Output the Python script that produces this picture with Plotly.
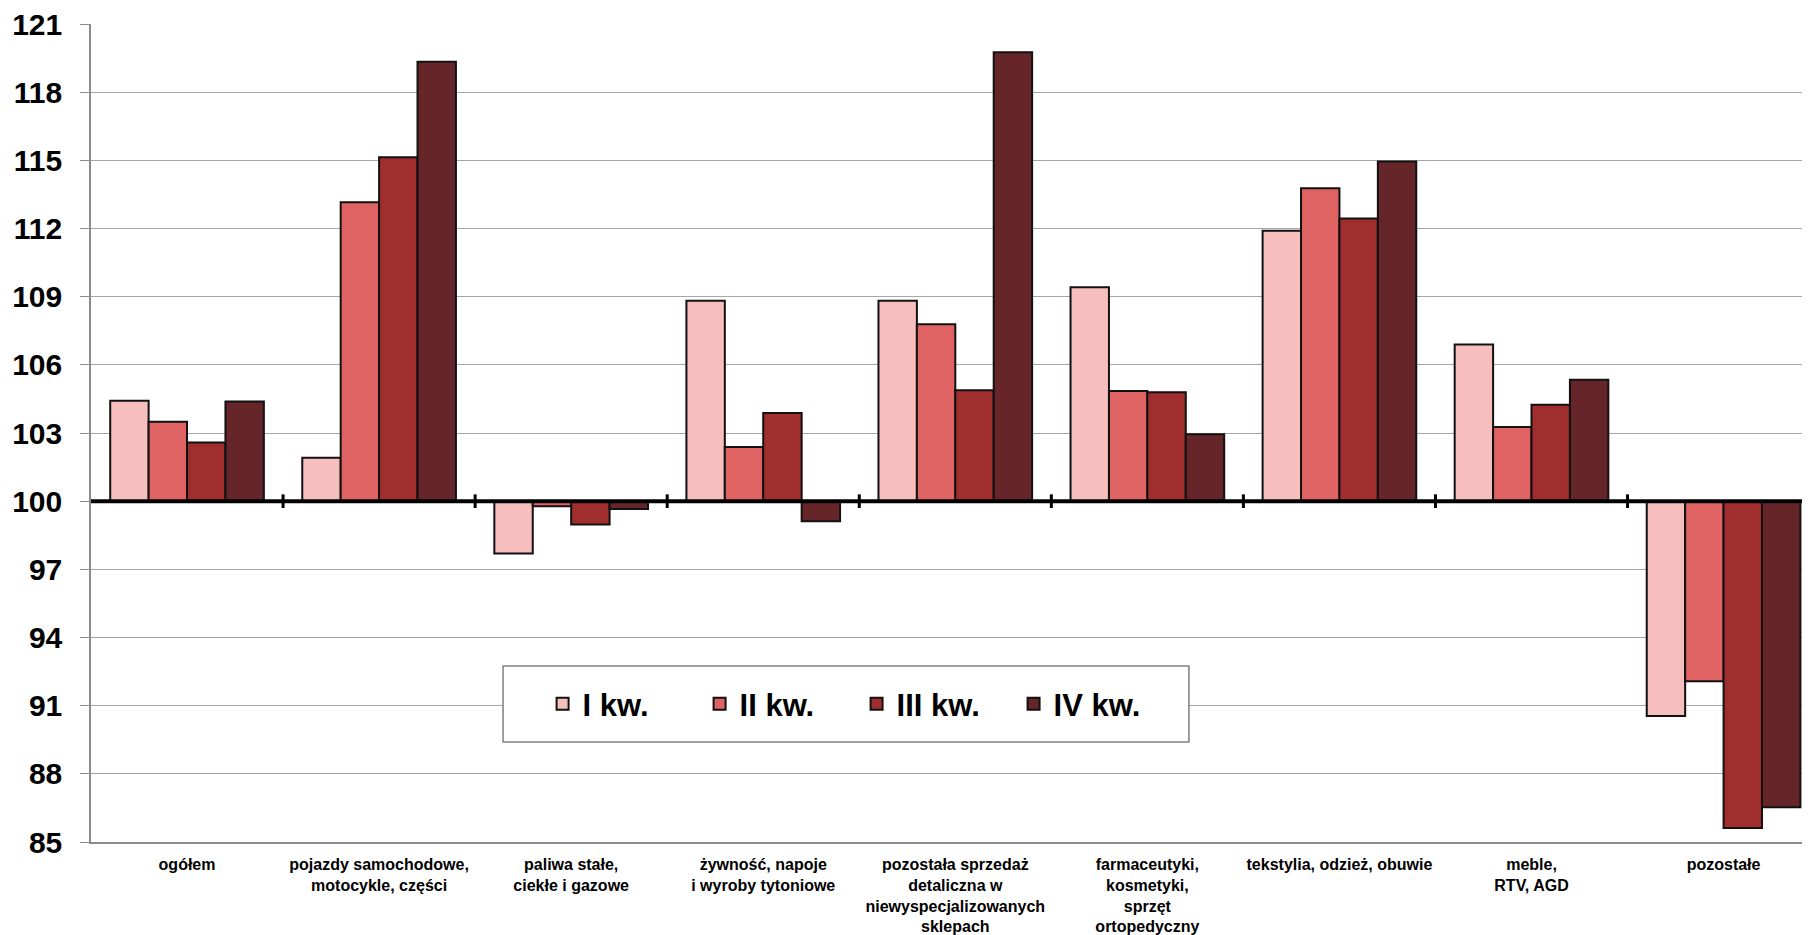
import plotly.graph_objects as go

categories = [
    "ogółem",
    "pojazdy samochodowe,<br>motocykle, części",
    "paliwa stałe,<br>ciekłe i gazowe",
    "żywność, napoje<br>i wyroby tytoniowe",
    "pozostała sprzedaż<br>detaliczna w<br>niewyspecjalizowanych<br>sklepach",
    "farmaceutyki,<br>kosmetyki,<br>sprzęt<br>ortopedyczny",
    "tekstylia, odzież, obuwie",
    "meble,<br>RTV, AGD",
    "pozostałe",
]
series_names = ["I kw.", "II kw.", "III kw.", "IV kw."]
q1 = [104.42, 101.91, 97.70, 108.82, 108.82, 109.41, 111.90, 106.89, 90.55]
q2 = [103.49, 113.16, 99.78, 102.38, 107.79, 104.85, 113.77, 103.26, 92.07]
q3 = [102.58, 115.14, 98.97, 103.88, 104.88, 104.79, 112.44, 104.24, 85.62]
q4 = [104.39, 119.34, 99.66, 99.12, 119.76, 102.94, 114.95, 105.34, 86.53]
series_values = [q1, q2, q3, q4]
y_ticks = [85, 88, 91, 94, 97, 100, 103, 106, 109, 112, 115, 118, 121]
base_value = 100

colors = ["#F7BEBE", "#E06363", "#A12E2E", "#662629"]
font_family = "Liberation Sans, Arial, sans-serif"

fig = go.Figure()
x_idx = list(range(len(categories)))
for name, vals, col in zip(series_names, series_values, colors):
    fig.add_trace(go.Bar(
        x=x_idx,
        y=[v - base_value for v in vals],
        base=base_value,
        name=name,
        marker=dict(color=col, line=dict(color="#111111", width=2)),
    ))

shapes = [
    # legend frame
    dict(type="rect", xref="paper", yref="paper", x0=0.2397, x1=0.6387, y0=0.1222, y1=0.2152,
         fillcolor="white", line=dict(color="#7F7F7F", width=1.5), layer="above"),
    # baseline at 100
    dict(type="line", xref="paper", yref="y", x0=0, x1=1, y0=base_value, y1=base_value,
         line=dict(color="black", width=4), layer="above"),
]
for i in range(1, len(categories)):
    shapes.append(dict(type="line", xref="x", yref="y", x0=i - 0.5, x1=i - 0.5,
                       y0=base_value - 0.3, y1=base_value + 0.3,
                       line=dict(color="black", width=3), layer="above"))

fig.update_layout(
    width=1802, height=927,
    margin=dict(l=83, r=0, t=16, b=93),
    paper_bgcolor="white", plot_bgcolor="white",
    barmode="group", bargap=0.2, bargroupgap=0,
    shapes=shapes,
    showlegend=True,
    legend=dict(
        orientation="h", x=0.2627, y=0.1687, xanchor="left", yanchor="middle",
        bgcolor="rgba(0,0,0,0)", borderwidth=0,
        font=dict(family=font_family, size=31, color="black", weight="bold"),
        entrywidth=112, itemwidth=30,
        traceorder="normal",
    ),
    xaxis=dict(
        range=[-0.5, 8.45], tickmode="array", tickvals=x_idx, ticktext=categories,
        tickangle=0, showgrid=False, zeroline=False, automargin=False,
        showline=True, linecolor="#8C8C8C", linewidth=1.5,
        ticks="", ticklabelstandoff=7, ticklabeloverflow="allow",
        tickfont=dict(family=font_family, size=16, color="black", weight="bold"),
    ),
    yaxis=dict(
        range=[85, 121], tickmode="array", tickvals=y_ticks, automargin=False,
        showgrid=True, gridcolor="#A6A6A6", gridwidth=1.2, zeroline=False,
        showline=True, linecolor="#8C8C8C", linewidth=1.5,
        ticks="outside", ticklen=9, tickcolor="#8C8C8C", ticklabelstandoff=12,
        ticklabeloverflow="allow",
        tickfont=dict(family=font_family, size=30, color="black", weight="bold"),
    ),
)

fig.write_html("out.html")
